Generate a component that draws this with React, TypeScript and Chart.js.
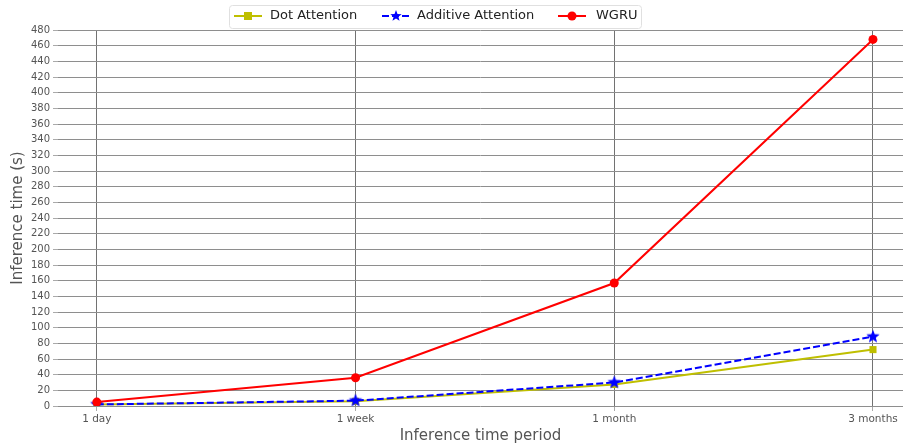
import React, { useEffect, useRef } from "react";
import { Chart, registerables } from "chart.js";
Chart.register(...registerables);

const categories = ["1 day", "1 week", "1 month", "3 months"];
const dotAttention = [2, 6, 27.5, 72];
const additiveAttention = [2, 6.8, 30, 88.5];
const wgru = [5, 36, 157, 468];
const yTicks = Array.from({ length: 25 }, (_, i) => i * 20);

const FONT = "'DejaVu Sans', sans-serif";

function makeStar(size: number, color: string) {
  const c = document.createElement("canvas");
  c.width = size * 2 + 2;
  c.height = size * 2 + 2;
  const ctx = c.getContext("2d")!;
  const cx = c.width / 2, cy = c.height / 2;
  ctx.beginPath();
  for (let i = 0; i < 10; i++) {
    const r = i % 2 === 0 ? size : size * 0.42;
    const a = -Math.PI / 2 + (i * Math.PI) / 5;
    const x = cx + r * Math.cos(a), y = cy + r * Math.sin(a);
    if (i === 0) ctx.moveTo(x, y); else ctx.lineTo(x, y);
  }
  ctx.closePath();
  ctx.fillStyle = color;
  ctx.fill();
  return c;
}

const legendPlugin = {
  id: "customLegend",
  afterDraw(chart: any) {
    const ctx = chart.ctx as CanvasRenderingContext2D;
    ctx.save();
    const x0 = 229, y0 = 5, w = 412, h = 23;
    ctx.fillStyle = "rgba(255,255,255,0.9)";
    ctx.strokeStyle = "#e0e0e0";
    ctx.lineWidth = 1;
    ctx.beginPath();
    ctx.roundRect(x0 + 0.5, y0 + 0.5, w, h, 3);
    ctx.fill();
    ctx.stroke();
    const items = [
      { label: "Dot Attention", color: "#bfbf00", dash: [], marker: "square", lx: 234, tx: 270 },
      { label: "Additive Attention", color: "#0000ff", dash: [7, 3], marker: "star", lx: 382, tx: 417 },
      { label: "WGRU", color: "#ff0000", dash: [], marker: "circle", lx: 558, tx: 596 },
    ];
    const yc = 16;
    ctx.font = `13px ${FONT}`;
    ctx.textBaseline = "middle";
    for (const it of items) {
      ctx.strokeStyle = it.color;
      ctx.lineWidth = 2;
      ctx.setLineDash(it.dash as number[]);
      ctx.beginPath();
      ctx.moveTo(it.lx, yc);
      ctx.lineTo(it.lx + 28, yc);
      ctx.stroke();
      ctx.setLineDash([]);
      const mx = it.lx + 14;
      ctx.fillStyle = it.color;
      if (it.marker === "square") {
        ctx.fillRect(mx - 4, yc - 4, 8, 8);
      } else if (it.marker === "circle") {
        ctx.beginPath();
        ctx.arc(mx, yc, 4.5, 0, Math.PI * 2);
        ctx.fill();
      } else {
        const s = makeStar(6, it.color);
        ctx.drawImage(s, mx - s.width / 2, yc - s.height / 2);
      }
      ctx.fillStyle = "#222";
      ctx.fillText(it.label, it.tx, yc);
    }
    ctx.restore();
  },
};

export default function App() {
  const ref = useRef<HTMLCanvasElement>(null);
  useEffect(() => {
    const star = makeStar(7, "#0000ff");
    const toPts = (arr: number[]) => arr.map((v, i) => ({ x: i, y: v }));
    const chart = new Chart(ref.current!, {
      type: "line",
      data: {
        datasets: [
          {
            label: "Dot Attention",
            data: toPts(dotAttention),
            borderColor: "#bfbf00",
            backgroundColor: "#bfbf00",
            borderWidth: 2,
            pointStyle: "rect",
            pointRadius: 5,
            pointBorderWidth: 0,
            order: 3,
          },
          {
            label: "Additive Attention",
            data: toPts(additiveAttention),
            borderColor: "#0000ff",
            backgroundColor: "#0000ff",
            borderWidth: 2,
            borderDash: [7, 3],
            pointStyle: star as any,
            pointRadius: 6,
            order: 2,
          },
          {
            label: "WGRU",
            data: toPts(wgru),
            borderColor: "#ff0000",
            backgroundColor: "#ff0000",
            borderWidth: 2,
            pointStyle: "circle",
            pointRadius: 4.5,
            pointBorderWidth: 0,
            order: 1,
          },
        ],
      },
      options: {
        animation: false,
        responsive: false,
        layout: { autoPadding: false, padding: { top: 30, right: 0, left: 0, bottom: 0 } },
        plugins: { legend: { display: false }, tooltip: { enabled: false } },
        scales: {
          x: {
            type: "linear",
            min: -0.15,
            max: 3.116,
            afterBuildTicks: (s: any) => {
              s.ticks = categories.map((_, i) => ({ value: i }));
            },
            afterFit: (s: any) => {
              s.height = 40;
            },
            ticks: {
              callback: (v: any) => categories[v as number] ?? "",
              color: "#555",
              font: { family: FONT, size: 10.5 },
              padding: 2,
              maxRotation: 0,
              autoSkip: false,
            },
            grid: { color: "#727272", tickLength: 5, drawTicks: true, tickColor: "#aaa" },
            border: { display: false },
            title: {
              display: true,
              text: "Inference time period",
              color: "#555",
              font: { family: FONT, size: 15 },
              padding: { top: 0, bottom: 1 },
            },
          },
          y: {
            min: 0,
            max: 480,
            afterBuildTicks: (s: any) => {
              s.ticks = yTicks.map((v) => ({ value: v }));
            },
            afterFit: (s: any) => {
              s.width = 58;
            },
            ticks: {
              color: "#555",
              font: { family: FONT, size: 10 },
              padding: 3,
              autoSkip: false,
            },
            grid: { color: "#8e8e8e", tickLength: 5, tickColor: "#aaa" },
            border: { display: false },
            title: {
              display: true,
              text: "Inference time (s)",
              color: "#555",
              font: { family: FONT, size: 15 },
              padding: { top: 9, bottom: 0 },
            },
          },
        },
      },
      plugins: [legendPlugin],
    });
    return () => chart.destroy();
  }, []);
  return (
    <div style={{ position: "fixed", left: 0, top: 0, width: 903, height: 446, background: "#fff" }}>
      <canvas ref={ref} width={903} height={446} style={{ width: 903, height: 446 }} />
    </div>
  );
}
